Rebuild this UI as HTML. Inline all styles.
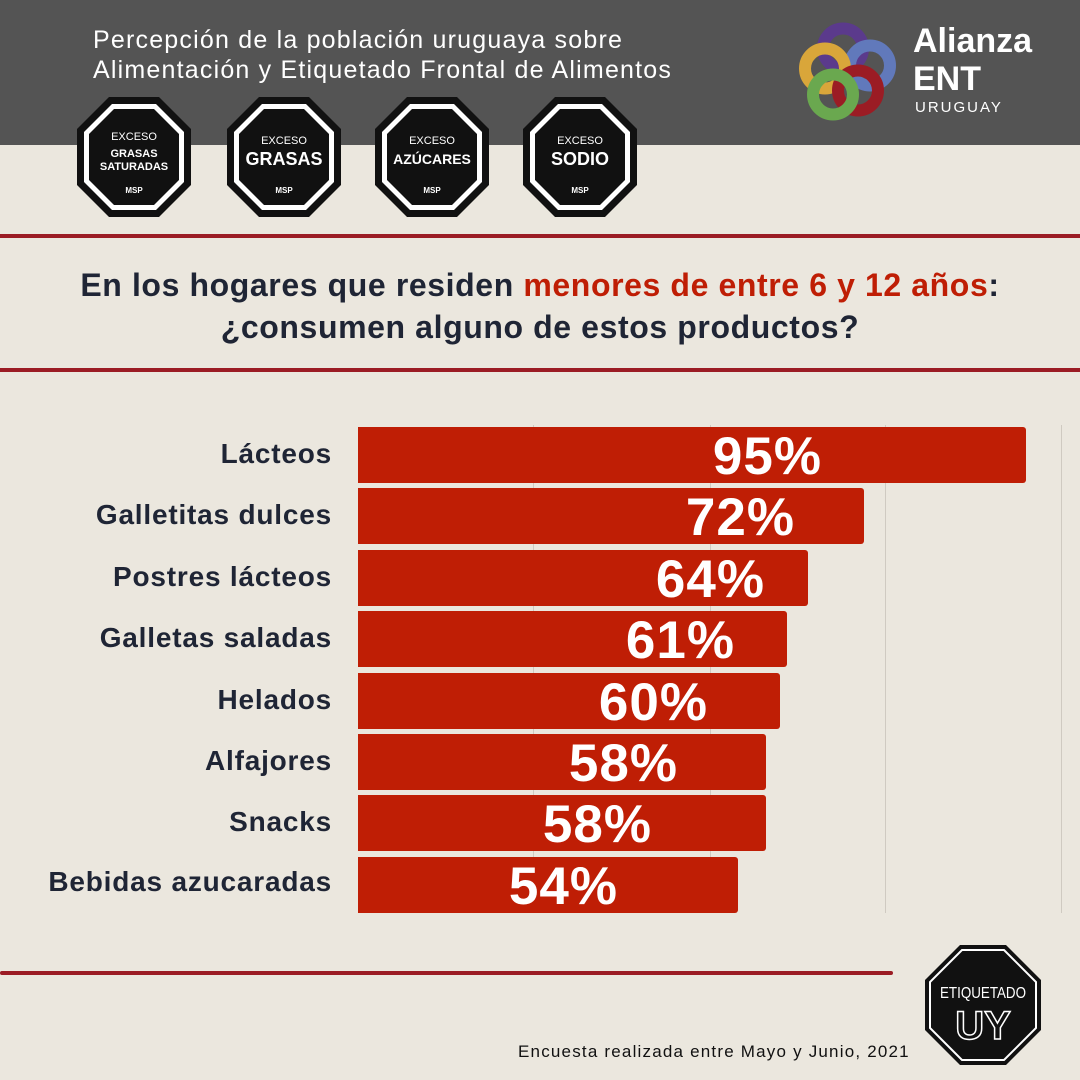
<!DOCTYPE html>
<html><head><meta charset="utf-8"><style>
body{margin:0;width:1080px;height:1080px;position:relative;overflow:hidden;background:#ebe7de;font-family:"Liberation Sans",sans-serif}
.a{position:absolute}
.hdr{left:0;top:0;width:1080px;height:145px;background:#545454}
.t{color:#fff;font-size:25px;letter-spacing:1.2px;line-height:30px;left:93px;top:25px;white-space:nowrap}
.red{background:#9b1c24;height:4px}
.q{left:0;width:1080px;text-align:center;top:264px;font-size:32px;letter-spacing:0.6px;font-weight:bold;color:#1f2535;line-height:42px;white-space:nowrap}
.lab{right:748px;font-size:28px;letter-spacing:0.8px;font-weight:bold;color:#1f2535;text-align:right;white-space:nowrap}
.bar{left:358px;height:56px;background:#bf1e05;border-radius:0 3px 3px 0}
.pct{font-size:53px;letter-spacing:1px;font-weight:bold;color:#fff;text-align:right;white-space:nowrap}
.g{width:1px;background:#cfcac1;top:425px;height:488px}
</style></head><body>
<div class="a hdr"></div>
<div class="a t">Percepción de la población uruguaya sobre<br>Alimentación y Etiquetado Frontal de Alimentos</div>
<svg class="a" style="left:798px;top:18px" width="110" height="105" viewBox="0 0 110 100">
<g fill="none" stroke-width="12">
<circle cx="45" cy="28" r="20" stroke="#5b3a8c"/>
<circle cx="72" cy="45" r="20" stroke="#6179bb"/>
<circle cx="27" cy="48" r="20" stroke="#d9a63a"/>
<circle cx="60" cy="70" r="20" stroke="#9b1c24"/>
<circle cx="35" cy="74" r="20" stroke="#6aa84f"/>
</g></svg>
<div class="a" style="left:913px;top:22px;color:#fff;font-weight:bold;font-size:34px;line-height:38px">Alianza<br>ENT</div>
<div class="a" style="left:915px;top:99px;color:#fff;font-size:15px;letter-spacing:2px">URUGUAY</div>
<svg class="a" style="left:0;top:95px" width="700" height="125">
<defs><g id="o"><polygon points="-25,-60 25,-60 57,-28 57,28 25,60 -25,60 -57,28 -57,-28" fill="#111"/><polygon points="-22,-53 22,-53 50,-25 50,25 22,53 -22,53 -50,25 -50,-25" fill="#fff"/><polygon points="-20,-48 20,-48 45,-23 45,23 20,48 -20,48 -45,23 -45,-23" fill="#111"/></g></defs>
<g font-family="Liberation Sans" fill="#fff" text-anchor="middle">
<g transform="translate(134,62)"><use href="#o"/><text y="-17" font-size="11">EXCESO</text><text y="0" font-size="11" font-weight="bold">GRASAS</text><text y="13" font-size="11" font-weight="bold">SATURADAS</text><text y="36" font-size="8" font-weight="bold">MSP</text></g>
<g transform="translate(284,62)"><use href="#o"/><text y="-13" font-size="11">EXCESO</text><text y="8" font-size="18" font-weight="bold">GRASAS</text><text y="36" font-size="8" font-weight="bold">MSP</text></g>
<g transform="translate(432,62)"><use href="#o"/><text y="-13" font-size="11">EXCESO</text><text y="7" font-size="14" font-weight="bold">AZÚCARES</text><text y="36" font-size="8" font-weight="bold">MSP</text></g>
<g transform="translate(580,62)"><use href="#o"/><text y="-13" font-size="11">EXCESO</text><text y="8" font-size="18" font-weight="bold">SODIO</text><text y="36" font-size="8" font-weight="bold">MSP</text></g>
</g></svg>
<div class="a red" style="left:0;top:234px;width:1080px"></div>
<div class="a q">En los hogares que residen <span style="color:#bf1e05">menores de entre 6 y 12 años</span>:<br>¿consumen alguno de estos productos?</div>
<div class="a red" style="left:0;top:368px;width:1080px"></div>
<div class="a g" style="left:533px"></div><div class="a g" style="left:710px"></div><div class="a g" style="left:885px"></div><div class="a g" style="left:1061px"></div>
<div class="a bar" style="top:427px;width:668px"></div><div class="a lab" style="top:438px">Lácteos</div><div class="a pct" style="top:426px;right:258px">95%</div>
<div class="a bar" style="top:488px;width:506px"></div><div class="a lab" style="top:499px">Galletitas dulces</div><div class="a pct" style="top:487px;right:285px">72%</div>
<div class="a bar" style="top:550px;width:450px"></div><div class="a lab" style="top:561px">Postres lácteos</div><div class="a pct" style="top:549px;right:315px">64%</div>
<div class="a bar" style="top:611px;width:429px"></div><div class="a lab" style="top:622px">Galletas saladas</div><div class="a pct" style="top:610px;right:345px">61%</div>
<div class="a bar" style="top:673px;width:422px"></div><div class="a lab" style="top:684px">Helados</div><div class="a pct" style="top:672px;right:372px">60%</div>
<div class="a bar" style="top:734px;width:408px"></div><div class="a lab" style="top:745px">Alfajores</div><div class="a pct" style="top:733px;right:402px">58%</div>
<div class="a bar" style="top:795px;width:408px"></div><div class="a lab" style="top:806px">Snacks</div><div class="a pct" style="top:794px;right:428px">58%</div>
<div class="a bar" style="top:857px;width:380px"></div><div class="a lab" style="top:866px">Bebidas azucaradas</div><div class="a pct" style="top:856px;right:462px">54%</div>
<div class="a red" style="left:0;top:971px;width:893px;border-radius:2px"></div>
<svg class="a" style="left:923px;top:943px" width="120" height="124">
<polygon points="37,2 83,2 118,37 118,87 83,122 37,122 2,87 2,37" fill="#111"/>
<polygon points="39,7 81,7 113,39 113,85 81,117 39,117 7,85 7,39" fill="none" stroke="#fff" stroke-width="2"/>
<text x="60" y="55" text-anchor="middle" font-family="Liberation Sans" font-size="16" textLength="86" lengthAdjust="spacingAndGlyphs" fill="#fff">ETIQUETADO</text>
<text x="60" y="96" text-anchor="middle" font-family="Liberation Sans" font-size="40" font-weight="bold" fill="none" stroke="#fff" stroke-width="1.5">UY</text>
</svg>
<div class="a" style="left:518px;top:1042px;font-size:17px;letter-spacing:1.2px;color:#111;white-space:nowrap">Encuesta realizada entre Mayo y Junio, 2021</div>
</body></html>
